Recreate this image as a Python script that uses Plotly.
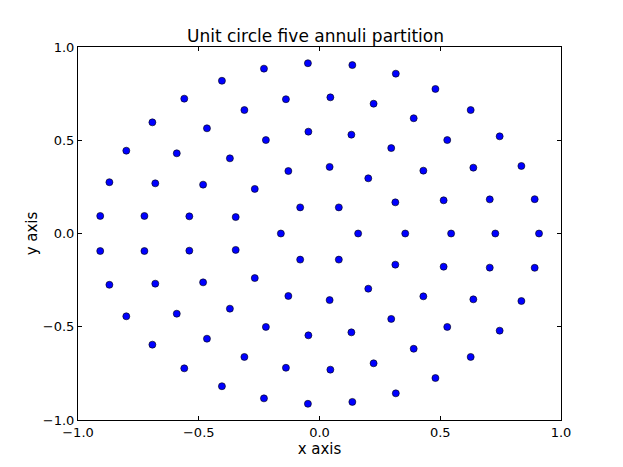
"""Unit circle split into five annuli, one dot per cell."""

import plotly.graph_objects as go

# point positions, ring by ring (inner to outer)
ring1_x = [0.16, 0.08, -0.08, -0.16, -0.08, 0.08]
ring1_y = [0.0, 0.14, 0.14, 0.0, -0.14, -0.14]

ring2_x = [0.355, 0.314, 0.202, 0.042, -0.129, -0.268, -0.347,
           -0.347, -0.268, -0.129, 0.042, 0.202, 0.314]
ring2_y = [0.0, 0.167, 0.296, 0.357, 0.335, 0.239, 0.088,
           -0.088, -0.239, -0.335, -0.357, -0.296, -0.167]

ring3_x = [0.545, 0.514, 0.430, 0.297, 0.132, -0.046, -0.222, -0.371, -0.482, -0.539,
           -0.539, -0.482, -0.371, -0.222, -0.046, 0.132, 0.297, 0.430, 0.514]
ring3_y = [0.0, 0.178, 0.337, 0.458, 0.530, 0.546, 0.501, 0.403, 0.262, 0.092,
           -0.092, -0.262, -0.403, -0.501, -0.546, -0.530, -0.458, -0.337, -0.178]

ring4_x = [0.728, 0.705, 0.637, 0.529, 0.390, 0.224, 0.045, -0.139, -0.311, -0.466,
           -0.591, -0.680, -0.725,
           -0.725, -0.680, -0.591, -0.466, -0.311, -0.139, 0.045, 0.224, 0.390,
           0.529, 0.637, 0.705]
ring4_y = [0.0, 0.183, 0.353, 0.501, 0.618, 0.696, 0.730, 0.720, 0.662, 0.564,
           0.430, 0.269, 0.094,
           -0.094, -0.269, -0.430, -0.564, -0.662, -0.720, -0.730, -0.696, -0.618,
           -0.501, -0.353, -0.183]

ring5_x = [0.909, 0.891, 0.836, 0.746, 0.626, 0.480, 0.316, 0.136, -0.048, -0.230,
           -0.404, -0.560, -0.692, -0.800, -0.870, -0.908,
           -0.908, -0.870, -0.800, -0.692, -0.560, -0.404, -0.230, -0.048, 0.136,
           0.316, 0.480, 0.626, 0.746, 0.836, 0.891]
ring5_y = [0.0, 0.184, 0.362, 0.521, 0.662, 0.775, 0.857, 0.903, 0.913, 0.884,
           0.819, 0.723, 0.596, 0.444, 0.275, 0.094,
           -0.094, -0.275, -0.444, -0.596, -0.723, -0.819, -0.884, -0.913, -0.903,
           -0.857, -0.775, -0.662, -0.521, -0.362, -0.184]

tick_vals = [-1.0, -0.5, 0.0, 0.5, 1.0]
tick_text = ["\u22121.0", "\u22120.5", "0.0", "0.5", "1.0"]

xs = ring1_x + ring2_x + ring3_x + ring4_x + ring5_x
ys = ring1_y + ring2_y + ring3_y + ring4_y + ring5_y

fig = go.Figure()

fig.add_trace(go.Scatter(
    x=xs,
    y=ys,
    mode='markers',
    marker=dict(color='#0000ff', size=7, line=dict(color='black', width=0.6)),
    showlegend=False,
))

axis_style = dict(
    range=[-1, 1],
    tickvals=tick_vals,
    ticktext=tick_text,
    ticks='inside',
    ticklen=4,
    tickcolor='black',
    showline=True,
    linecolor='black',
    linewidth=1,
    mirror='ticks',
    showgrid=False,
    zeroline=False,
    tickfont=dict(size=13, color='black'),
)

# page body has an 8px margin, so the figure is 8px smaller than the window
fig.update_layout(
    width=615,
    height=459,
    title=dict(
        text="Unit circle five annuli partition",
        x=0.5, xanchor='center',
        y=0.939, yanchor='middle',
        font=dict(size=17, color='black'),
    ),
    xaxis=dict(axis_style, title=dict(text="x axis", font=dict(size=15), standoff=2)),
    yaxis=dict(axis_style, title=dict(text="y axis", font=dict(size=15), standoff=1)),
    paper_bgcolor='white',
    plot_bgcolor='white',
    margin=dict(l=70, r=62, t=39, b=47),
    font=dict(color='black', family="DejaVu Sans"),
)

fig.write_html("out.html")
